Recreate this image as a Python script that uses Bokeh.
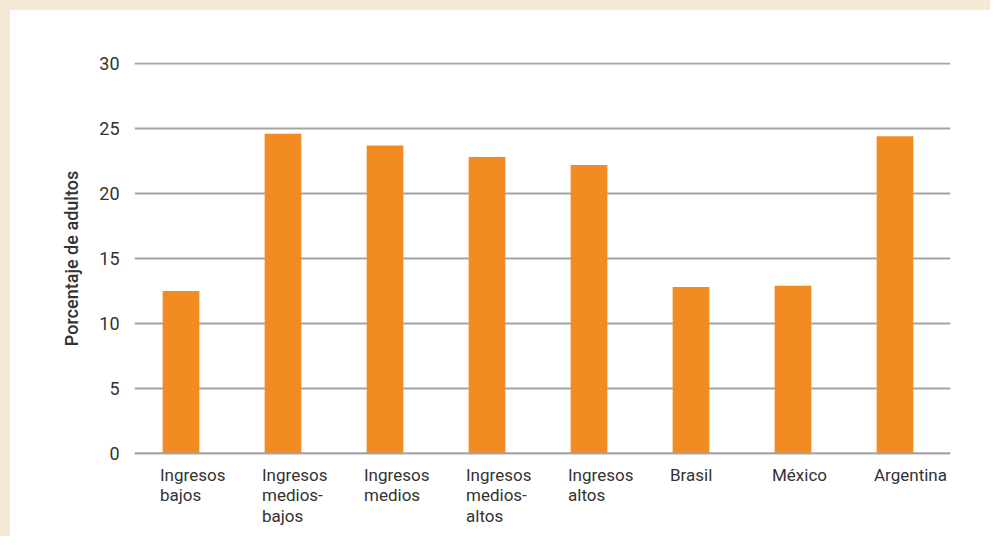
from bokeh.plotting import figure
from bokeh.layouts import column
from bokeh.models import Range1d, FixedTicker, Span, ColumnDataSource, LabelSet
from bokeh.core.properties import value
from bokeh.embed import file_html
from bokeh.resources import INLINE

# ---- data ----
categories = [
    "Ingresos\nbajos",
    "Ingresos\nmedios-\nbajos",
    "Ingresos\nmedios",
    "Ingresos\nmedios-\naltos",
    "Ingresos\naltos",
    "Brasil",
    "México",
    "Argentina",
]
values = [12.5, 24.6, 23.7, 22.8, 22.2, 12.8, 12.9, 24.4]
y_ticks = [0, 5, 10, 15, 20, 25, 30]
y_label = "Porcentaje de adultos"

BAR = "#F28B21"
GRID = "#a3a3a6"
TEXT = "#333333"
BEIGE = "#F4E9D4"
FONT = "Roboto"

xs = list(range(len(categories)))
src = ColumnDataSource(dict(x=xs, top=values, label=categories, base=[0] * len(xs)))
x_range = Range1d(-0.456, len(categories) - 0.456)

# ---- main chart ----
p = figure(
    width=990, height=464,
    output_backend="svg", toolbar_location=None,
    x_range=x_range,
    y_range=Range1d(-0.08, 30.08),
    min_border_left=134, min_border_right=40,
    min_border_top=62, min_border_bottom=10,
)
p.border_fill_alpha = 0
p.background_fill_alpha = 0
p.outline_line_color = None

p.vbar(x="x", top="top", bottom=0, width=0.36, source=src,
       fill_color=BAR, line_color=None)

p.add_layout(Span(location=0, dimension="width", line_color=GRID, line_width=2))

p.xgrid.grid_line_color = None
p.ygrid.ticker = FixedTicker(ticks=y_ticks)
p.ygrid.grid_line_color = GRID
p.ygrid.grid_line_width = 2

p.yaxis.ticker = FixedTicker(ticks=y_ticks)
p.yaxis.axis_line_color = None
p.yaxis.major_tick_line_color = None
p.yaxis.minor_tick_line_color = None
p.yaxis.major_tick_out = 0
p.yaxis.major_tick_in = 0
p.yaxis.major_label_standoff = 15
p.yaxis.major_label_text_font = FONT
p.yaxis.major_label_text_font_size = "18px"
p.yaxis.major_label_text_color = TEXT
p.yaxis.axis_label = y_label
p.yaxis.axis_label_text_font = "Roboto Medium"
p.yaxis.axis_label_text_font_size = "18px"
p.yaxis.axis_label_text_font_style = "normal"
p.yaxis.axis_label_text_color = TEXT
p.yaxis.axis_label_standoff = 14
p.xaxis.visible = False

# ---- category label strip (shares the x scale) ----
q = figure(
    width=990, height=72,
    output_backend="svg", toolbar_location=None,
    x_range=x_range, y_range=Range1d(-1, 0),
    min_border_left=134, min_border_right=40,
    min_border_top=0, min_border_bottom=0,
)
q.border_fill_alpha = 0
q.background_fill_alpha = 0
q.outline_line_color = None
q.axis.visible = False
q.grid.grid_line_color = None
q.add_layout(LabelSet(x="x", y="base", text="label", source=src,
                      x_offset=-21, y_offset=0,
                      text_align="left", text_baseline="top",
                      text_font=value(FONT), text_font_size=value("17px"),
                      text_color=TEXT, text_line_height=1.03))

layout = column(p, q, spacing=0,
                styles={"background-color": "#ffffff",
                        "box-shadow": "inset 10px 10px 0 0 " + BEIGE})

open("out.html", "w").write(file_html(layout, INLINE))
